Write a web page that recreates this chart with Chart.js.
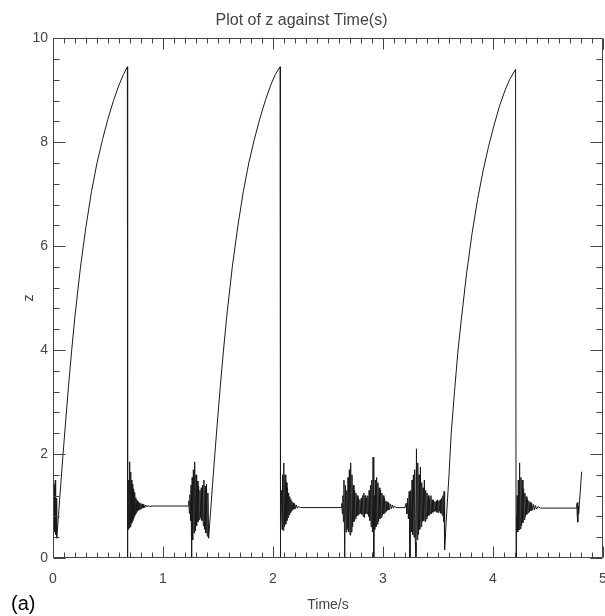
<!DOCTYPE html>
<html>
<head>
<meta charset="utf-8">
<script src="https://cdn.jsdelivr.net/npm/chart.js@4"></script>
<style>
  html, body { margin: 0; padding: 0; background: #fff; }
  #wrap { width: 605px; height: 616px; }
</style>
</head>
<body>
<div id="wrap"><canvas id="c" width="605" height="616"></canvas></div>
<script>
// ---- data: [time (s), z] ----
const startBurst = [[0,1.0],[0.003,1.28],[0.006,0.72],[0.009,1.35],[0.012,0.62],[0.015,1.42],[0.018,0.5],[0.021,1.5],[0.024,0.45],[0.028,1.15],[0.032,0.38]];
const rise1 = [[0.035,0.38],[0.05,0.82],[0.07,1.4],[0.09,1.96],[0.11,2.5],[0.14,3.28],[0.17,4.0],[0.2,4.66],[0.25,5.6],[0.3,6.38],[0.35,7.05],[0.4,7.6],[0.45,8.05],[0.5,8.45],[0.55,8.8],[0.6,9.1],[0.64,9.3],[0.676,9.45]];
const burst1 = [[0.677,0.0],[0.680,1.2],[0.684,0.55],[0.688,1.5],[0.692,0.58],[0.697,1.85],[0.701,0.6],[0.705,1.65],[0.709,0.64],[0.713,1.5],[0.717,0.68],[0.721,1.42],[0.725,0.72],[0.729,1.33],[0.733,0.76],[0.737,1.26],[0.741,0.8],[0.745,1.2],[0.749,0.84],[0.753,1.16],[0.757,0.87],[0.761,1.12],[0.765,0.9],[0.769,1.1],[0.773,0.92],[0.778,1.08],[0.783,0.93],[0.788,1.06],[0.793,0.94],[0.799,1.05],[0.805,0.95],[0.811,1.04],[0.818,0.96],[0.825,1.03],[0.833,0.97],[0.842,1.02],[0.852,0.98],[0.863,1.01],[0.88,0.99],[0.9,1.0],[1.23,1.0]];
const burst2 = [[1.235,1.1],[1.24,0.86],[1.245,1.22],[1.25,0.72],[1.255,1.4],[1.26,0.0],[1.265,1.55],[1.27,0.35],[1.276,1.7],[1.282,0.48],[1.288,1.85],[1.294,0.52],[1.3,1.6],[1.306,0.62],[1.312,1.48],[1.318,0.7],[1.324,1.38],[1.33,0.74],[1.336,1.3],[1.342,0.78],[1.348,1.35],[1.354,0.72],[1.36,1.4],[1.366,0.62],[1.372,1.5],[1.378,0.55],[1.384,1.38],[1.39,0.48],[1.396,1.42],[1.402,0.42],[1.408,1.25],[1.415,0.38]];
const rise2 = [[1.43,0.82],[1.45,1.4],[1.47,1.96],[1.49,2.5],[1.52,3.28],[1.55,4.0],[1.58,4.66],[1.63,5.6],[1.68,6.38],[1.73,7.05],[1.78,7.6],[1.83,8.05],[1.88,8.45],[1.93,8.8],[1.98,9.1],[2.02,9.3],[2.064,9.45]];
const burst3 = [[2.065,0.0],[2.068,0.9],[2.072,0.5],[2.077,1.3],[2.082,0.55],[2.087,1.6],[2.092,0.53],[2.098,1.83],[2.104,0.6],[2.11,1.6],[2.116,0.65],[2.122,1.45],[2.127,0.72],[2.132,1.35],[2.137,0.78],[2.142,1.25],[2.147,0.83],[2.152,1.18],[2.157,0.87],[2.162,1.13],[2.167,0.9],[2.172,1.09],[2.178,0.92],[2.184,1.06],[2.19,0.94],[2.197,1.04],[2.204,0.95],[2.212,1.02],[2.22,0.96],[2.23,0.99],[2.25,0.97],[2.62,0.97]];
const burst4 = [[2.625,1.05],[2.63,0.85],[2.635,1.2],[2.64,0.7],[2.645,1.5],[2.652,0.0],[2.658,1.4],[2.664,0.5],[2.67,1.3],[2.676,0.55],[2.682,1.55],[2.688,0.5],[2.694,1.7],[2.7,0.44],[2.706,1.83],[2.712,0.5],[2.718,1.6],[2.724,0.6],[2.73,1.4],[2.736,0.7],[2.742,1.3],[2.748,0.75],[2.754,1.25],[2.76,0.8],[2.766,1.2],[2.772,0.82],[2.778,1.15],[2.784,0.85],[2.79,1.12],[2.796,0.86],[2.802,1.15],[2.808,0.84],[2.814,1.2],[2.82,0.8],[2.826,1.25],[2.832,0.78],[2.838,1.2],[2.844,0.85],[2.85,1.15],[2.856,0.85],[2.862,1.2],[2.868,0.8],[2.874,1.3],[2.88,0.72],[2.886,1.4],[2.892,0.6],[2.898,1.5],[2.904,0.5],[2.91,1.94],[2.916,0.0]];
const burst5 = [[2.92,1.2],[2.925,0.55],[2.93,1.5],[2.936,0.6],[2.942,1.55],[2.948,0.65],[2.954,1.45],[2.96,0.7],[2.966,1.35],[2.972,0.75],[2.978,1.3],[2.984,0.78],[2.99,1.25],[2.996,0.82],[3.002,1.2],[3.008,0.85],[3.014,1.15],[3.02,0.88],[3.026,1.1],[3.032,0.9],[3.038,1.08],[3.045,0.92],[3.052,1.06],[3.06,0.93],[3.068,1.04],[3.077,0.95],[3.086,1.02],[3.095,0.96],[3.105,1.0],[3.12,0.97],[3.2,0.97]];
const burst6 = [[3.21,1.05],[3.217,0.85],[3.224,1.15],[3.231,0.75],[3.238,1.28],[3.245,0.0],[3.252,1.3],[3.258,0.5],[3.264,1.5],[3.27,0.45],[3.276,1.6],[3.282,0.4],[3.288,1.7],[3.294,0.3],[3.3,0.0],[3.304,2.1],[3.31,0.35],[3.316,1.83],[3.322,0.45],[3.328,1.6],[3.334,0.55],[3.34,1.75],[3.346,0.6],[3.352,1.45],[3.358,0.7],[3.364,1.35],[3.37,0.72],[3.376,1.5],[3.382,0.7],[3.388,1.3],[3.394,0.75],[3.4,1.25],[3.406,0.8],[3.412,1.2],[3.418,0.82],[3.424,1.15],[3.43,0.85],[3.436,1.2],[3.442,0.85],[3.448,1.12],[3.454,0.88],[3.46,1.1],[3.466,0.9],[3.472,1.08],[3.478,0.9],[3.484,1.1],[3.49,0.88],[3.496,1.12],[3.502,0.87],[3.508,1.1],[3.514,0.9],[3.52,1.12],[3.526,0.86],[3.532,1.15],[3.538,0.82],[3.544,1.2],[3.55,0.7],[3.555,1.28],[3.56,0.16]];
const rise3 = [[3.58,0.9],[3.6,1.6],[3.62,2.4],[3.65,3.2],[3.68,3.95],[3.71,4.55],[3.76,5.48],[3.81,6.25],[3.86,6.9],[3.91,7.45],[3.96,7.92],[4.01,8.33],[4.06,8.7],[4.11,9.0],[4.15,9.2],[4.205,9.4]];
const burst7 = [[4.21,0.0],[4.212,0.8],[4.216,0.45],[4.22,1.2],[4.225,0.5],[4.23,1.5],[4.236,0.54],[4.242,1.83],[4.248,0.56],[4.254,1.55],[4.26,0.62],[4.266,1.5],[4.272,0.68],[4.278,1.33],[4.284,0.74],[4.29,1.25],[4.296,0.8],[4.302,1.18],[4.308,0.84],[4.314,1.13],[4.32,0.87],[4.326,1.1],[4.332,0.89],[4.338,1.07],[4.345,0.91],[4.352,1.05],[4.36,0.92],[4.368,1.03],[4.377,0.93],[4.386,1.01],[4.396,0.94],[4.41,0.99],[4.43,0.96],[4.76,0.96]];
const endBurst = [[4.763,1.05],[4.766,0.8],[4.769,1.07],[4.772,0.69],[4.775,1.0],[4.778,0.85],[4.782,0.95],[4.806,1.66]];

const xTicks = [0, 1, 2, 3, 4, 5];
const yTicks = [0, 2, 4, 6, 8, 10];
const titleText = 'Plot of z against Time(s)';
const xTitle = 'Time/s';
const yTitle = 'z';
const panelLabel = '(a)';

const segments = [startBurst, rise1, burst1, burst2, rise2, burst3, burst4, burst5, burst6, rise3, burst7, endBurst];
const points = [];
segments.forEach(s => s.forEach(p => points.push({ x: p[0], y: p[1] })));

const FONT = '"Liberation Sans", Arial, sans-serif';
const AXIS_COLOR = '#444';

const frameTicks = {
  id: 'frameTicks',
  afterDatasetsDraw(chart) {
    const { ctx, chartArea, scales } = chart;
    const L = Math.round(chartArea.left) + 0.5, R = Math.round(chartArea.right) - 0.5;
    const T = Math.round(chartArea.top) + 0.5, B = Math.round(chartArea.bottom) - 0.5;
    ctx.save();
    ctx.strokeStyle = AXIS_COLOR;
    ctx.lineWidth = 1;
    ctx.beginPath();
    ctx.rect(L, T, R - L, B - T);
    for (let i = 0; i <= 50; i++) {
      const px = Math.round(scales.x.getPixelForValue(i / 10)) + 0.5;
      const len = (i % 10 === 0) ? 11 : 5;
      ctx.moveTo(px, B); ctx.lineTo(px, B - len);
      ctx.moveTo(px, T); ctx.lineTo(px, T + len);
    }
    for (let i = 0; i <= 25; i++) {
      const py = Math.round(scales.y.getPixelForValue(i * 0.4)) + 0.5;
      const len = (i % 5 === 0) ? 12 : 6;
      ctx.moveTo(L, py); ctx.lineTo(L + len, py);
      ctx.moveTo(R, py); ctx.lineTo(R - len, py);
    }
    ctx.stroke();
    ctx.fillStyle = '#000';
    ctx.font = '20px ' + FONT;
    ctx.textAlign = 'left';
    ctx.textBaseline = 'middle';
    ctx.fillText(panelLabel, 11, 604);
    ctx.restore();
  }
};

new Chart(document.getElementById('c'), {
  type: 'scatter',
  data: {
    datasets: [{
      data: points,
      showLine: true,
      borderColor: '#1a1a1a',
      borderWidth: 1,
      pointRadius: 0,
      tension: 0,
      fill: false
    }]
  },
  options: {
    responsive: false,
    animation: false,
    devicePixelRatio: 1,
    layout: { padding: { left: 0, right: 2, top: 0, bottom: 0 } },
    plugins: {
      legend: { display: false },
      tooltip: { enabled: false },
      title: {
        display: true,
        text: titleText,
        color: AXIS_COLOR,
        font: { family: FONT, size: 16, weight: 'normal' },
        padding: { top: 11, bottom: 8 }
      }
    },
    scales: {
      x: {
        type: 'linear',
        min: 0, max: 5,
        afterBuildTicks(scale) { scale.ticks = xTicks.map(v => ({ value: v })); },
        ticks: { color: AXIS_COLOR, font: { family: FONT, size: 14 }, padding: 13, maxRotation: 0, autoSkip: false,
                 callback: v => String(v) },
        grid: { display: false, drawTicks: false },
        border: { display: false },
        title: { display: true, text: xTitle, color: AXIS_COLOR, font: { family: FONT, size: 14 }, padding: { top: 0, bottom: 2 } },
        afterFit(scale) { scale.height = 58; scale.paddingLeft = 0; scale.paddingRight = 0; }
      },
      y: {
        type: 'linear',
        min: 0, max: 10,
        afterBuildTicks(scale) { scale.ticks = yTicks.map(v => ({ value: v })); },
        ticks: { color: AXIS_COLOR, font: { family: FONT, size: 14 }, padding: 5, autoSkip: false,
                 callback: v => String(v) },
        grid: { display: false, drawTicks: false },
        border: { display: false },
        title: { display: true, text: yTitle, color: AXIS_COLOR, font: { family: FONT, size: 14 }, padding: { top: 21, bottom: 0 } },
        afterFit(scale) { scale.width = 53; scale.paddingTop = 0; scale.paddingBottom = 0; }
      }
    }
  },
  plugins: [frameTicks]
});
</script>
</body>
</html>
